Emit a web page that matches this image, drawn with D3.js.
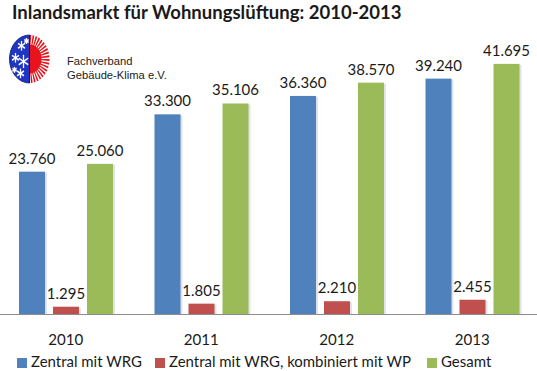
<!DOCTYPE html>
<html><head><meta charset="utf-8">
<script src="https://cdn.jsdelivr.net/npm/d3@7"></script>
<style>html,body{margin:0;padding:0;background:#fff;}svg{display:block;}</style>
</head><body>
<svg id="chart" width="537" height="371"></svg>
<script>
const years = ["2010", "2011", "2012", "2013"];
const seriesNames = ["Zentral mit WRG", "Zentral mit WRG, kombiniert mit WP", "Gesamt"];
const zentralWRG = [23760, 33300, 36360, 39240];
const kombiniertWP = [1295, 1805, 2210, 2455];
const gesamt = [25060, 35106, 38570, 41695];
const seriesColors = ["#4f81bd", "#c0504d", "#9bbb59"];
const titleText = "Inlandsmarkt für Wohnungslüftung: 2010-2013";
const logoLines = ["Fachverband", "Gebäude-Klima e.V."];

const seriesValues = [zentralWRG, kombiniertWP, gesamt];
const de = d3.formatLocale({decimal: ",", thousands: ".", grouping: [3], currency: ["", " €"]});
const fmt = de.format(",");

const svg = d3.select("#chart");
const W = 537, H = 371;
const FONT = "Lato, 'Open Sans', sans-serif";
const ARIAL = "'Liberation Sans', Arial, sans-serif";

function fitSize(text, family, weight, targetW) {
  const t = svg.append("text").attr("font-family", family).attr("font-weight", weight)
    .attr("font-size", 100).text(text);
  const w = t.node().getComputedTextLength();
  t.remove();
  return 100 * targetW / w;
}

// scales
const x0 = d3.scaleBand().domain(years).range([-2, 540]).paddingInner(0).paddingOuter(0);
const x1 = d3.scaleBand().domain(seriesNames).range([21, 115]).paddingInner(0.235).paddingOuter(0);
const y = d3.scaleLinear().domain([0, 45000]).range([314.5, 44]);

// title
const titleSize = fitSize(titleText, FONT, "bold", 390);
svg.append("text").attr("x", 12).attr("y", 19).attr("font-family", FONT).attr("font-weight", "bold")
  .attr("font-size", titleSize).attr("fill", "#1a1a1a").text(titleText);

// logo
const logo = svg.append("g").attr("transform", "translate(29.5,59) scale(1,1.2)");
const R = 20;
logo.append("path")
  .attr("d", d3.arc()({innerRadius: 0, outerRadius: R, startAngle: Math.PI, endAngle: 2 * Math.PI}))
  .attr("fill", "#1f35c4").attr("stroke", "#12206e").attr("stroke-width", 0.8);
const nRays = 20;
for (let i = 0; i < nRays; i++) {
  const a0 = (i / nRays) * Math.PI, a1 = ((i + 0.55) / nRays) * Math.PI;
  logo.append("path")
    .attr("d", d3.arc()({innerRadius: 10, outerRadius: R, startAngle: a0, endAngle: a1}))
    .attr("fill", "#e8131c");
}
logo.append("path")
  .attr("d", d3.arc()({innerRadius: 0, outerRadius: 12, startAngle: 0, endAngle: Math.PI}))
  .attr("fill", "#e8131c");
logo.append("line").attr("x1", 0).attr("x2", 0).attr("y1", -R).attr("y2", R)
  .attr("stroke", "#1a1a1a").attr("stroke-width", 0.8);
const flakes = [[-8, -11, 4], [-14, -1, 4], [-6, 2, 5.5], [-9, 12, 4], [-3, -15, 2.5], [-15, 9, 2.5]];
flakes.forEach(([fx, fy, fr]) => {
  for (let k = 0; k < 3; k++) {
    const a = k * Math.PI / 3 + Math.PI / 2;
    logo.append("line")
      .attr("x1", fx - fr * Math.cos(a)).attr("y1", fy - fr * Math.sin(a))
      .attr("x2", fx + fr * Math.cos(a)).attr("y2", fy + fr * Math.sin(a))
      .attr("stroke", "#fff").attr("stroke-width", 1.3);
  }
});
const logoSize = fitSize(logoLines[1], ARIAL, "normal", 100);
svg.append("text").attr("x", 67).attr("y", 65).attr("font-family", ARIAL)
  .attr("font-size", logoSize).attr("fill", "#222").text(logoLines[0]);
svg.append("text").attr("x", 67).attr("y", 79).attr("font-family", ARIAL)
  .attr("font-size", logoSize).attr("fill", "#222").text(logoLines[1]);

// bars
const labelSize = fitSize("23.760", FONT, "normal", 47);
const groups = svg.append("g").selectAll("g").data(years).join("g")
  .attr("transform", d => `translate(${x0(d)},0)`);

groups.each(function(yr, i) {
  const g = d3.select(this);
  seriesNames.forEach((s, j) => {
    const v = seriesValues[j][i];
    g.append("rect")
      .attr("x", x1(s) + 2).attr("y", y(v) + 1)
      .attr("width", x1.bandwidth()).attr("height", y(0) - y(v) - 1)
      .attr("fill", "#dfe3ea");
    g.append("rect")
      .attr("x", x1(s)).attr("y", y(v))
      .attr("width", x1.bandwidth()).attr("height", y(0) - y(v))
      .attr("fill", seriesColors[j]);
    g.append("text")
      .attr("x", x1(s) + x1.bandwidth() / 2).attr("y", y(v) - 8)
      .attr("text-anchor", "middle").attr("font-family", FONT).attr("font-size", labelSize)
      .attr("fill", "#1a1a1a").text(fmt(v));
  });
});

// axis
const axisSize = fitSize("2010", FONT, "normal", 35);
const axis = svg.append("g").attr("transform", `translate(0,${y(0)})`)
  .call(d3.axisBottom(x0).tickSize(0).tickPadding(20));
axis.select(".domain").attr("d", `M0,0H${W}`).attr("stroke", "#8c8c8c").attr("stroke-width", 1.2);
axis.selectAll("text").attr("font-family", FONT).attr("font-size", axisSize).attr("fill", "#1a1a1a");

// legend
const legendSize = fitSize(seriesNames[0], FONT, "normal", 111);
const legendX = [17, 155, 427];
const leg = svg.append("g");
seriesNames.forEach((s, j) => {
  leg.append("rect").attr("x", legendX[j]).attr("y", 358).attr("width", 10).attr("height", 10)
    .attr("fill", seriesColors[j]);
  leg.append("text").attr("x", legendX[j] + 14).attr("y", 366.5)
    .attr("font-family", FONT).attr("font-size", legendSize).attr("fill", "#1a1a1a").text(s);
});
</script>
</body></html>
